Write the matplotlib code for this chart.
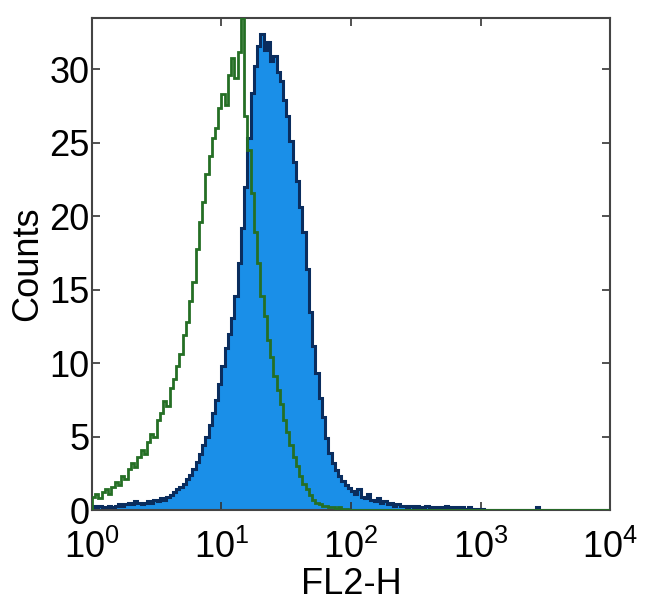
import numpy as np
import matplotlib
matplotlib.use("Agg")
from matplotlib import pyplot as plt

plt.rcParams['font.family'] = ['Liberation Sans', 'DejaVu Sans']
plt.rcParams['mathtext.fontset'] = 'custom'
plt.rcParams['mathtext.rm'] = 'Liberation Sans'

# channel edges in decades (0.025 decade bins from 10^0 to 10^4)
log_edges = np.linspace(0, 4, 161)

# stained sample (filled blue), counts per bin
blue_counts = [0.3, 0.2, 0.3, 0.1, 0.2, 0.3, 0.2, 0.3, 0.4, 0.3,   # 0.00-0.25
               0.4, 0.5, 0.4, 0.6, 0.5, 0.4, 0.5, 0.6, 0.5, 0.7,   # 0.25-0.50
               0.6, 0.8, 0.7, 0.9, 1.0, 1.2, 1.4, 1.6, 1.8, 2.1,   # 0.50-0.75
               2.4, 2.8, 3.3, 3.8, 4.4, 5.0, 5.8, 6.6, 7.5, 8.6,   # 0.75-1.00
               9.8, 11.0, 12.0, 13.1, 14.6, 16.8, 19.2, 22.0, 25.3, 28.4,  # 1.00-1.25
               30.2, 31.6, 32.4, 31.3, 31.9, 30.6, 30.9, 29.8, 29.2, 27.9,  # 1.25-1.50
               26.8, 25.1, 23.7, 22.4, 20.6, 18.9, 16.4, 13.5, 11.2, 9.3,  # 1.50-1.75
               7.6, 6.3, 4.9, 3.9, 3.2, 2.7, 2.3, 2.0, 1.7, 1.5,   # 1.75-2.00
               1.3, 1.1, 1.4, 0.9, 0.8, 1.1, 0.7, 0.6, 0.8, 0.5,   # 2.00-2.25
               0.6, 0.4, 0.5, 0.3, 0.4, 0.3, 0.3, 0.2, 0.3, 0.2,   # 2.25-2.50
               0.3, 0.2, 0.2, 0.3, 0.2, 0.2, 0.2, 0.2, 0.2, 0.3,   # 2.50-2.75
               0.2, 0.2, 0.2, 0.1, 0.2, 0.1, 0.2, 0.1, 0.1, 0.1,   # 2.75-3.00
               0.1, 0.0, 0.0, 0.0, 0.0, 0.0, 0.0, 0.0, 0.0, 0.0,   # 3.00-3.25
               0.0, 0.0, 0.0, 0.0, 0.0, 0.0, 0.0, 0.2, 0.0, 0.0,   # 3.25-3.50
               0.0, 0.0, 0.0, 0.0, 0.0, 0.0, 0.0, 0.0, 0.0, 0.0,   # 3.50-3.75
               0.0, 0.0, 0.0, 0.0, 0.0, 0.0, 0.0, 0.0, 0.0, 0.0]   # 3.75-4.00

# isotype control (green outline)
green_counts = [0.9, 1.1, 0.8, 1.2, 1.4, 1.1, 1.6, 1.9, 1.7, 2.3,   # 0.00-0.25
                2.1, 2.8, 3.2, 2.9, 3.6, 4.1, 3.8, 4.6, 5.2, 5.0,   # 0.25-0.50
                6.1, 6.6, 7.4, 7.1, 8.3, 8.9, 9.8, 10.6, 11.9, 12.8,  # 0.50-0.75
                14.2, 15.5, 17.8, 19.6, 21.0, 22.9, 24.1, 25.3, 26.0, 27.4,  # 0.75-1.00
                28.3, 27.6, 29.6, 30.8, 29.4, 31.2, 33.5, 26.8, 24.5, 21.6,  # 1.00-1.25
                18.9, 16.8, 14.6, 13.2, 11.6, 10.4, 9.1, 8.2, 7.2, 6.1,  # 1.25-1.50
                5.3, 4.4, 3.6, 3.0, 2.3, 1.8, 1.4, 1.0, 0.7, 0.5,   # 1.50-1.75
                0.4, 0.3, 0.3, 0.2, 0.2, 0.1, 0.2, 0.1, 0.1, 0.0,   # 1.75-2.00
                0.0, 0.0, 0.0, 0.0, 0.0, 0.0, 0.0, 0.0, 0.0, 0.0,
                0.0, 0.0, 0.0, 0.0, 0.0, 0.0, 0.0, 0.0, 0.0, 0.0,
                0.0, 0.0, 0.0, 0.0, 0.0, 0.0, 0.0, 0.0, 0.0, 0.0,
                0.0, 0.0, 0.0, 0.0, 0.0, 0.0, 0.0, 0.0, 0.0, 0.0,
                0.0, 0.0, 0.0, 0.0, 0.0, 0.0, 0.0, 0.0, 0.0, 0.0,
                0.0, 0.0, 0.0, 0.0, 0.0, 0.0, 0.0, 0.0, 0.0, 0.0,
                0.0, 0.0, 0.0, 0.0, 0.0, 0.0, 0.0, 0.0, 0.0, 0.0,
                0.0, 0.0, 0.0, 0.0, 0.0, 0.0, 0.0, 0.0, 0.0, 0.0]

x_ticks = [1, 10, 100, 1000, 10000]
y_ticks = [0, 5, 10, 15, 20, 25, 30]

edges = 10 ** log_edges

fig = plt.figure(figsize=(6.5, 6.15), dpi=100)
ax = fig.add_axes([0.1415, 0.1707, 0.797, 0.80])

ax.stairs(blue_counts, edges, fill=True, color='#1a8fe8', zorder=1)
ax.stairs(blue_counts, edges, color='#0a2d5e', linewidth=2.2, zorder=2)
ax.stairs(green_counts, edges, color='#256f25', linewidth=2, zorder=3)

ax.set_xscale('log')
ax.set_xlim(1, 10000)
ax.set_ylim(0, 33.5)
ax.set_xticks(x_ticks)
ax.set_yticks(y_ticks)
ax.minorticks_off()

ax.tick_params(direction='in', length=6, width=1.2, top=True, right=True,
               labelsize=26, color='#333333')
ax.tick_params(axis='y', pad=2)
ax.tick_params(axis='x', pad=14)
for s in ax.spines.values():
    s.set_color('#444444')
    s.set_linewidth(1.5)

ax.set_xlabel('FL2-H', fontsize=26, labelpad=1)
ax.set_ylabel('Counts', fontsize=26, labelpad=3)

fig.savefig('out.png', dpi=100)
